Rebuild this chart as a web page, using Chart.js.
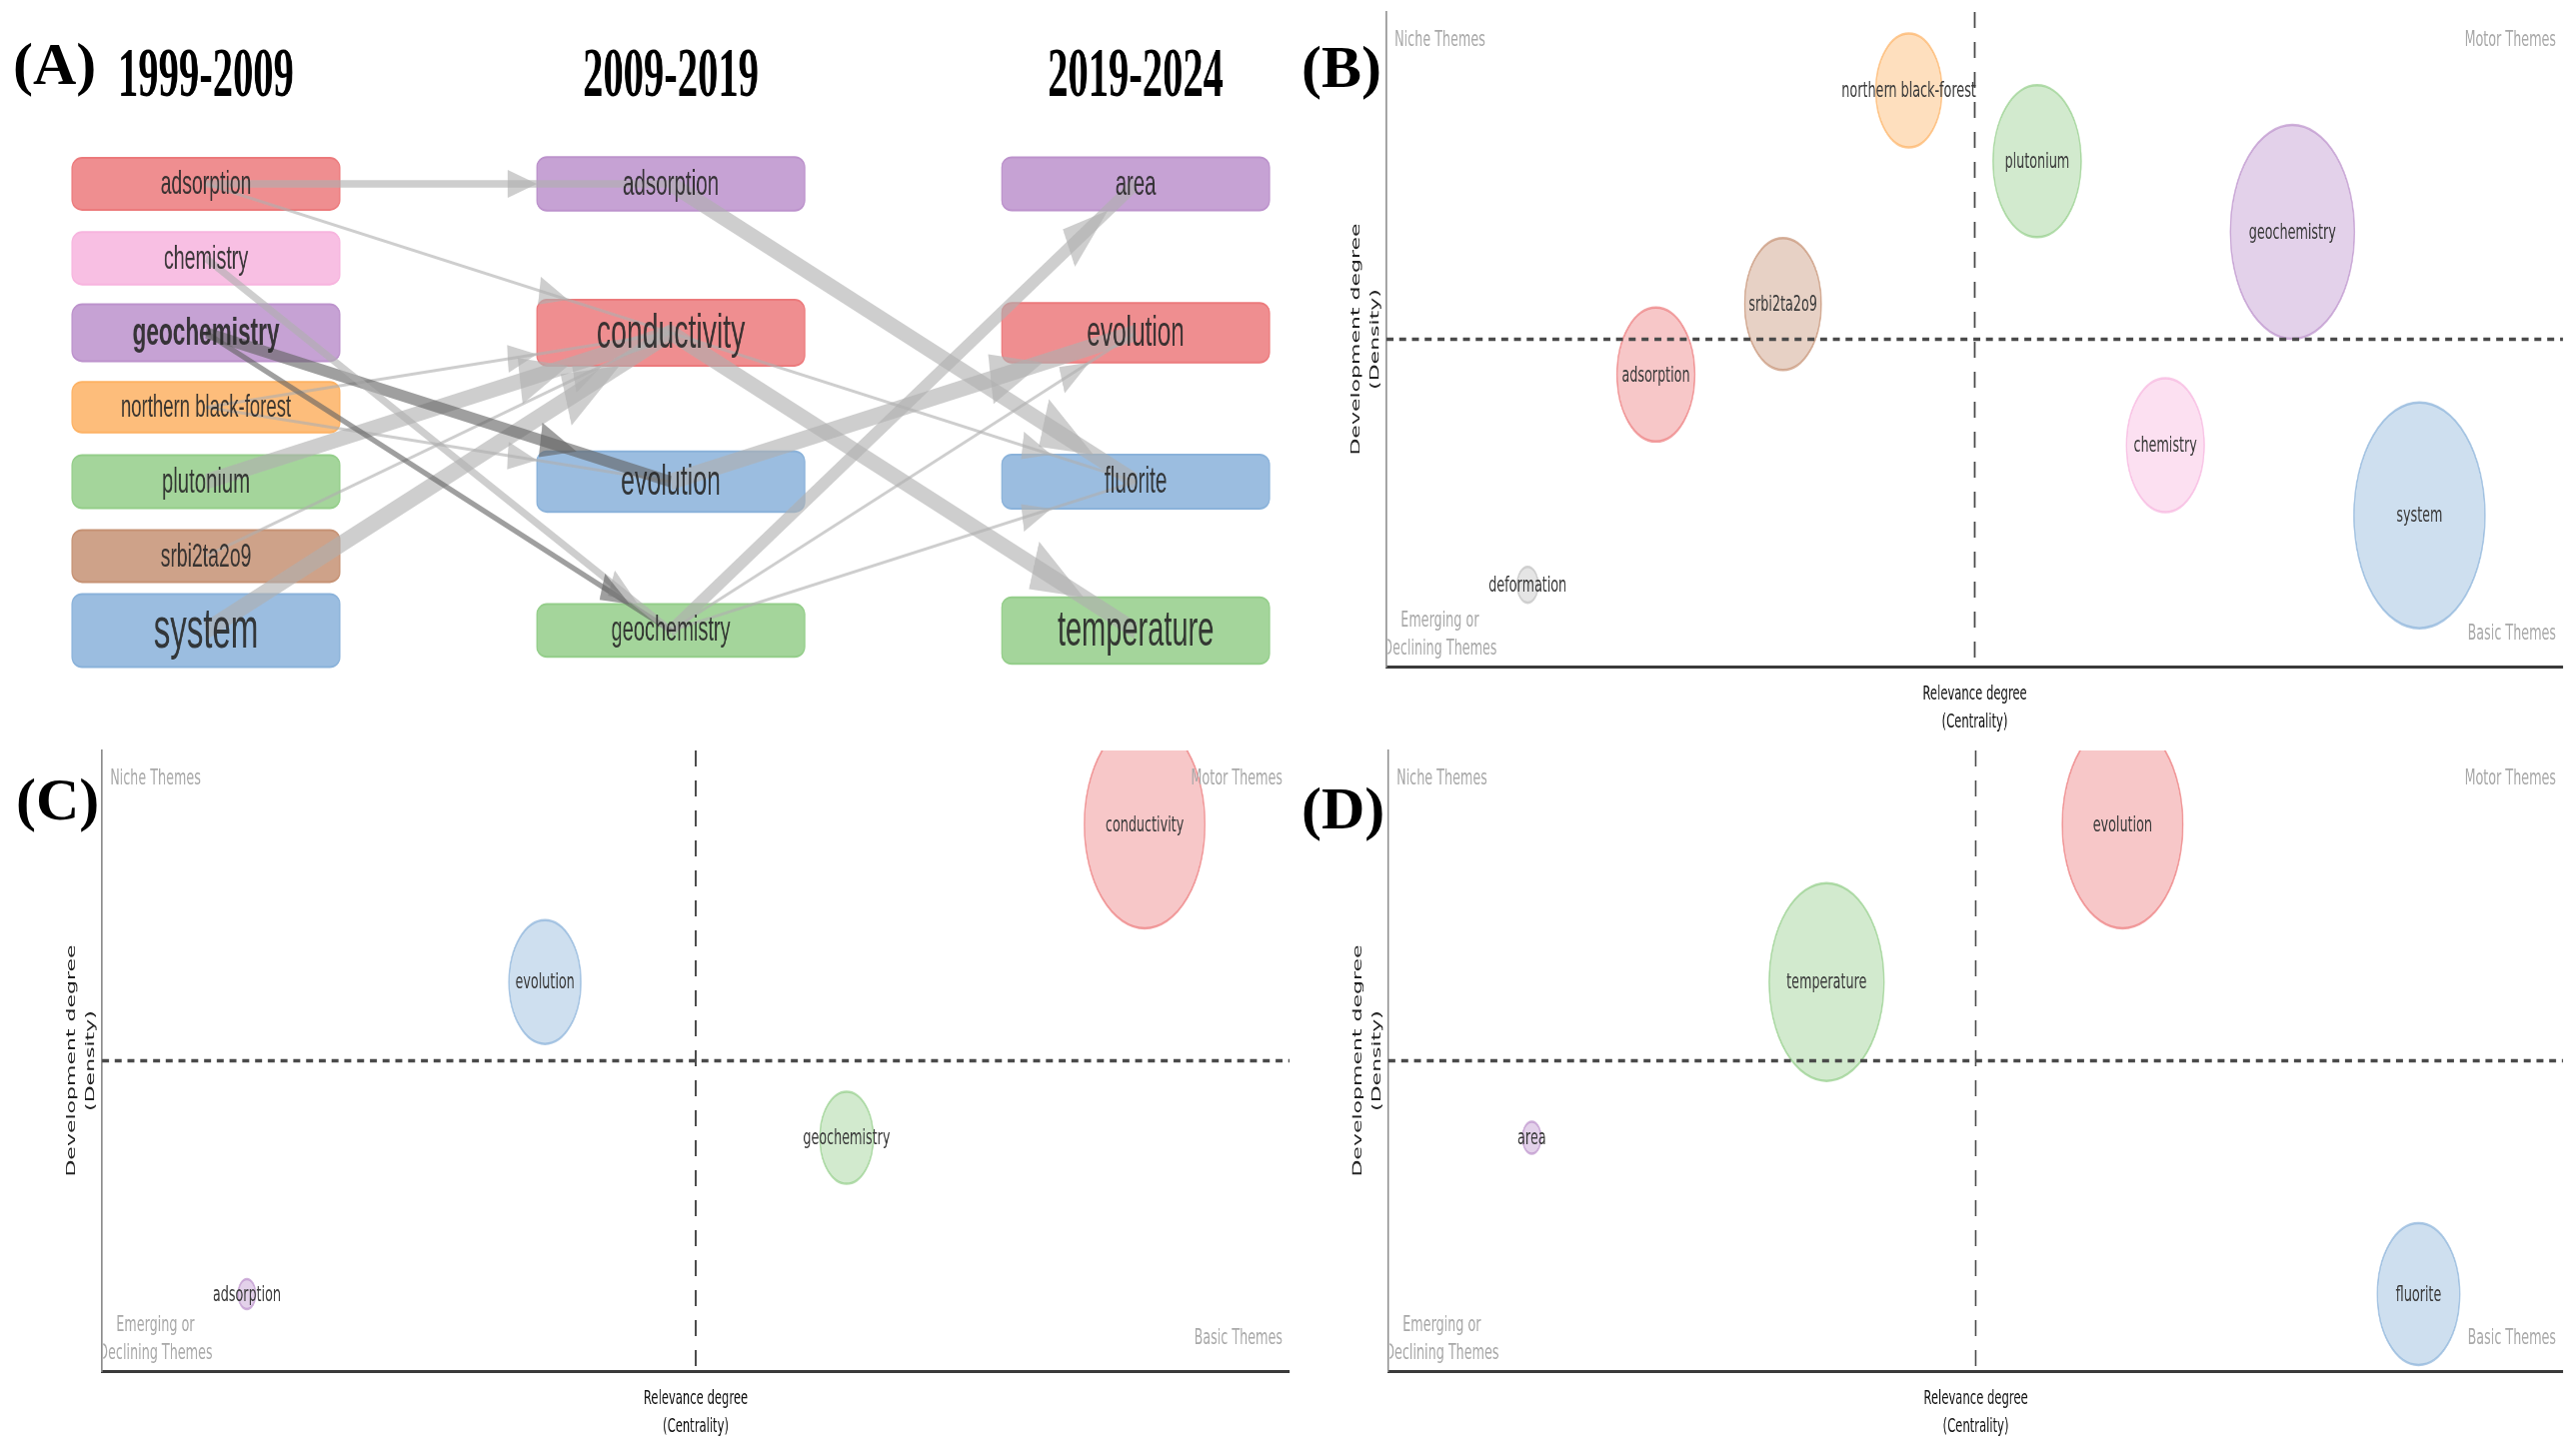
<!DOCTYPE html>
<html lang="en">
<head>
<meta charset="UTF-8">
<title>Thematic evolution and strategic diagrams</title>
<script src="https://cdn.jsdelivr.net/npm/chart.js@4"></script>
<style>
  html, body { margin: 0; padding: 0; background: #fff; overflow: hidden; }
  #figure { position: relative; width: 2577px; height: 1450px; background: #fff; }
  canvas { position: absolute; }
  .tag { position: absolute; font: bold 60px "Liberation Serif", "Times New Roman", serif; line-height: 60px; color: #000; }
</style>
</head>
<body>
<div id="figure">
  <canvas id="panelA"></canvas>
  <canvas id="panelB"></canvas>
  <canvas id="panelC"></canvas>
  <canvas id="panelD"></canvas>
  <div class="tag" style="left:13px;top:34px">(A)</div>
  <div class="tag" style="left:1302px;top:37px">(B)</div>
  <div class="tag" style="left:16px;top:770px">(C)</div>
  <div class="tag" style="left:1302px;top:779px">(D)</div>
</div>

<script>
// ---- data: thematic evolution (panel A) ----
const periods = ['1999-2009', '2009-2019', '2019-2024'];

const themes1 = ['adsorption', 'chemistry', 'geochemistry', 'northern black-forest', 'plutonium', 'srbi2ta2o9', 'system'];
const rank1 = [0, 1, 2, 3, 4, 5, 6];
const weight1 = [1.3, 1.4, 2.4, 1.0, 1.6, 1.3, 6];
const colors1 = ['red', 'pink', 'purple', 'orange', 'green', 'brown', 'blue'];

const themes2 = ['adsorption', 'conductivity', 'evolution', 'geochemistry'];
const rank2 = [0, 2, 4, 6];
const weight2 = [1.7, 4.4, 3.2, 1.5];
const colors2 = ['purple', 'red', 'blue', 'green'];

const themes3 = ['area', 'evolution', 'fluorite', 'temperature'];
const rank3 = [0, 2, 4, 6];
const weight3 = [1.6, 3.0, 1.8, 4.6];
const colors3 = ['purple', 'red', 'blue', 'green'];

// flows between consecutive periods
const flowPeriod = [0, 0, 0, 0, 0, 0, 0, 0, 0, 0, 1, 1, 1, 1, 1, 1, 1];
const flowSource = ['adsorption', 'adsorption', 'chemistry', 'geochemistry', 'geochemistry', 'northern black-forest',
  'northern black-forest', 'plutonium', 'srbi2ta2o9', 'system',
  'adsorption', 'conductivity', 'conductivity', 'evolution', 'geochemistry', 'geochemistry', 'geochemistry'];
const flowTarget = ['adsorption', 'conductivity', 'geochemistry', 'evolution', 'geochemistry', 'conductivity',
  'evolution', 'conductivity', 'conductivity', 'conductivity',
  'fluorite', 'temperature', 'fluorite', 'evolution', 'area', 'evolution', 'fluorite'];
const flowWeight = [2.8, 1.2, 3.2, 4.5, 2.2, 1.2, 1.2, 6, 1.2, 7, 6.5, 6.5, 1.2, 6.5, 5.5, 1.2, 1.2];
const highlighted = 'geochemistry'; // selected theme of first period

// ---- data: strategic diagrams (panels B, C, D) ----
const themesB = ['northern black-forest', 'plutonium', 'geochemistry', 'srbi2ta2o9', 'adsorption', 'chemistry', 'system', 'deformation'];
const centralityB = [44.4, 55.3, 77.0, 33.7, 22.9, 66.2, 87.8, 12.0];
const densityB = [88.0, 77.2, 66.4, 55.4, 44.6, 33.8, 23.1, 12.5];
const sizeB = [5.7, 7.6, 10.7, 6.6, 6.7, 6.7, 11.3, 1.8];
const colorsB = ['orange', 'green', 'purple', 'brown', 'red', 'pink', 'blue', 'grey'];

const themesC = ['conductivity', 'evolution', 'geochemistry', 'adsorption'];
const centralityC = [87.8, 37.3, 62.7, 12.2];
const densityC = [88.1, 62.7, 37.6, 12.4];
const sizeC = [10.4, 6.2, 4.6, 1.5];
const colorsC = ['red', 'blue', 'green', 'purple'];

const themesD = ['evolution', 'temperature', 'area', 'fluorite'];
const centralityD = [62.5, 37.3, 12.2, 87.7];
const densityD = [88.1, 62.7, 37.6, 12.4];
const sizeD = [10.4, 9.9, 1.6, 7.1];
const colorsD = ['red', 'green', 'purple', 'blue'];

// ---- styling ----
const SQUEEZE = 0.58; // the figure is horizontally compressed
const PALETTE = {
  red: [236, 122, 124], pink: [247, 180, 222], purple: [188, 146, 204], orange: [253, 178, 100],
  green: [148, 206, 138], brown: [198, 146, 116], blue: [138, 178, 218], grey: [192, 192, 192]
};
const rgba = (c, a) => `rgba(${c[0]},${c[1]},${c[2]},${a})`;
const EDGE_LIGHT = 'rgba(176,176,176,0.62)';
const EDGE_DARK = 'rgba(100,100,100,0.62)';
const EDGE_UNIT = 2.6;
const BUBBLE_UNIT = 10;

Chart.defaults.font.family = '"DejaVu Sans", Verdana, sans-serif';

function placeCanvas(id, box) {
  const c = document.getElementById(id);
  c.style.left = box.left + 'px';
  c.style.top = box.top + 'px';
  c.style.width = box.width + 'px';
  c.style.height = box.height + 'px';
  c.width = Math.round(box.width / SQUEEZE);
  c.height = box.height;
  return c;
}

// ================= Panel A =================
const themesByPeriod = [themes1, themes2, themes3];
const rankByPeriod = [rank1, rank2, rank3];
const weightByPeriod = [weight1, weight2, weight3];
const colorByPeriod = [colors1, colors2, colors3];

const nodes = [];
themesByPeriod.forEach((list, col) => {
  list.forEach((t, i) => nodes.push({
    col, theme: t, rank: rankByPeriod[col][i], weight: weightByPeriod[col][i],
    color: colorByPeriod[col][i], bold: col === 0 && t === highlighted
  }));
});
const findNode = (col, theme) => nodes.find(n => n.col === col && n.theme === theme);
const boxHeight = w => 46 + 4.5 * w;
const boxFont = w => 27 + 5 * w;
const BOX_HALF = 0.288;   // half box width, in period units
const HEADER_RANK = -1.42;

const flowDatasets = flowSource.map((src, i) => {
  const col = flowPeriod[i];
  const a = findNode(col, src);
  const b = findNode(col + 1, flowTarget[i]);
  return {
    type: 'scatter',
    showLine: true,
    data: [{ x: col, y: a.rank }, { x: col + 1, y: b.rank }],
    borderColor: a.bold ? EDGE_DARK : EDGE_LIGHT,
    backgroundColor: a.bold ? EDGE_DARK : EDGE_LIGHT,
    borderWidth: flowWeight[i] * EDGE_UNIT,
    pointRadius: 0,
    pointHoverRadius: 0,
    clip: false,
    targetNode: b
  };
});

const sankeyPlugin = {
  id: 'sankeyBoxes',
  beforeDatasetsDraw(chart) {
    const { ctx, scales: { x, y } } = chart;
    const hw = x.getPixelForValue(BOX_HALF) - x.getPixelForValue(0);
    ctx.save();
    nodes.forEach(n => {
      const cx = x.getPixelForValue(n.col), cy = y.getPixelForValue(n.rank);
      const h = boxHeight(n.weight);
      ctx.beginPath();
      ctx.roundRect(cx - hw, cy - h / 2, 2 * hw, h, [{ x: 10 / SQUEEZE, y: 10 }]);
      ctx.fillStyle = rgba(PALETTE[n.color], 0.85);
      ctx.fill();
      ctx.lineWidth = 2;
      ctx.strokeStyle = rgba(PALETTE[n.color], 1);
      ctx.stroke();
    });
    ctx.restore();
  },
  afterDatasetsDraw(chart) {
    const { ctx, scales: { x, y } } = chart;
    const hw = x.getPixelForValue(BOX_HALF) - x.getPixelForValue(0);
    ctx.save();
    // arrow heads where each flow enters its target box
    chart.data.datasets.forEach((ds, i) => {
      const pts = chart.getDatasetMeta(i).data;
      const x0 = pts[0].x, y0 = pts[0].y, x1 = pts[1].x, y1 = pts[1].y;
      const dx = x1 - x0, dy = y1 - y0;
      const hh = boxHeight(ds.targetNode.weight) / 2;
      const s = Math.min(hw / Math.max(Math.abs(dx), 1e-6), hh / Math.max(Math.abs(dy), 1e-6));
      const tx = x1 - dx * s, ty = y1 - dy * s;
      const len = Math.hypot(dx, dy), ux = dx / len, uy = dy / len;
      const headW = Math.max(14, ds.borderWidth * 1.5);
      const headL = headW * 3.6;
      const bx = tx - ux * headL, by = ty - uy * headL;
      ctx.beginPath();
      ctx.moveTo(tx, ty);
      ctx.lineTo(bx - uy * headW, by + ux * headW);
      ctx.lineTo(bx + uy * headW, by - ux * headW);
      ctx.closePath();
      ctx.fillStyle = ds.borderColor;
      ctx.fill();
    });
    // node labels
    ctx.textAlign = 'center';
    ctx.textBaseline = 'middle';
    nodes.forEach(n => {
      ctx.font = `${n.bold ? 'bold ' : ''}${boxFont(n.weight)}px "Liberation Sans", Arial, sans-serif`;
      ctx.fillStyle = 'rgba(40,40,40,0.9)';
      ctx.fillText(n.theme, x.getPixelForValue(n.col), y.getPixelForValue(n.rank) + 1);
    });
    // period headers
    ctx.font = 'bold 70px "Liberation Serif", "Times New Roman", serif';
    ctx.fillStyle = '#000';
    periods.forEach((p, col) => ctx.fillText(p, x.getPixelForValue(col), y.getPixelForValue(HEADER_RANK)));
    ctx.restore();
  }
};

new Chart(placeCanvas('panelA', { left: 0, top: 0, width: 1330, height: 720 }), {
  type: 'scatter',
  data: { datasets: flowDatasets },
  options: {
    responsive: false,
    animation: false,
    events: [],
    layout: { padding: 0, autoPadding: false },
    plugins: { legend: { display: false }, tooltip: { enabled: false } },
    scales: {
      x: { type: 'linear', display: false, min: -0.443, max: 2.417 },
      y: { type: 'linear', display: false, reverse: true, min: -2.47, max: 7.195 }
    }
  },
  plugins: [sankeyPlugin]
});

// ================= Panels B, C, D =================
const MID = 50;
const X_TITLE_LH = 28, X_TITLE_PAD = { top: 14, bottom: 0 };
const Y_TITLE_LH = 32.7, Y_TITLE_PAD = { top: 4, bottom: 3 };

const quadrantPlugin = {
  id: 'quadrants',
  afterDatasetsDraw(chart) {
    const { ctx, chartArea: a, scales: { x, y } } = chart;
    ctx.save();
    ctx.strokeStyle = '#4a4a4a';
    // vertical median line
    ctx.lineWidth = 3;
    ctx.setLineDash([16, 14]);
    const cx = x.getPixelForValue(MID);
    ctx.beginPath(); ctx.moveTo(cx, a.top); ctx.lineTo(cx, a.bottom); ctx.stroke();
    // horizontal median line
    ctx.lineWidth = 3.5;
    ctx.setLineDash([12, 10]);
    const cy = y.getPixelForValue(MID);
    ctx.beginPath(); ctx.moveTo(a.left, cy); ctx.lineTo(a.right, cy); ctx.stroke();
    ctx.setLineDash([]);

    // quadrant names, kept inside the plot area
    ctx.save();
    ctx.beginPath();
    ctx.rect(a.left + 2, a.top, a.right - a.left, a.bottom - a.top);
    ctx.clip();
    ctx.font = '22px "DejaVu Sans", Verdana, sans-serif';
    ctx.fillStyle = '#a8a8a8';
    ctx.textBaseline = 'middle';
    ctx.textAlign = 'left';
    ctx.fillText('Niche Themes', a.left + 14, a.top + 28);
    ctx.textAlign = 'right';
    ctx.fillText('Motor Themes', a.right - 12, a.top + 28);
    ctx.fillText('Basic Themes', a.right - 12, a.bottom - 33);
    ctx.textAlign = 'center';
    ctx.fillText('Emerging or', a.left + 92, a.bottom - 46);
    ctx.fillText('Declining Themes', a.left + 92, a.bottom - 18);
    ctx.restore();

    // theme labels on bubbles
    const ds = chart.data.datasets[0];
    const pts = chart.getDatasetMeta(0).data;
    ctx.font = '22px "DejaVu Sans", Verdana, sans-serif';
    ctx.fillStyle = '#3a3a3a';
    ctx.textAlign = 'center';
    ctx.textBaseline = 'middle';
    pts.forEach((p, i) => ctx.fillText(ds.themeLabels[i], p.x, p.y + 1));
    ctx.restore();
  }
};

function quadrantChart(id, box, area, themes, centrality, density, sizes, colors) {
  const canvas = placeCanvas(id, box);
  const yTitleW = 2 * Y_TITLE_LH + Y_TITLE_PAD.top + Y_TITLE_PAD.bottom;
  const xTitleH = 2 * X_TITLE_LH + X_TITLE_PAD.top + X_TITLE_PAD.bottom;
  const padding = {
    left: (area.left - box.left) / SQUEEZE - yTitleW,
    right: (box.left + box.width - area.right) / SQUEEZE,
    top: area.top - box.top,
    bottom: box.top + box.height - area.bottom - xTitleH
  };
  return new Chart(canvas, {
    type: 'bubble',
    data: {
      datasets: [{
        data: themes.map((t, i) => ({ x: centrality[i], y: density[i], r: sizes[i] * BUBBLE_UNIT })),
        themeLabels: themes,
        backgroundColor: colors.map(c => rgba(PALETTE[c], 0.42)),
        borderColor: colors.map(c => rgba(PALETTE[c], 0.7)),
        borderWidth: 2.5,
        hoverRadius: 0,
        clip: 0
      }]
    },
    options: {
      responsive: false,
      animation: false,
      events: [],
      layout: { padding, autoPadding: false },
      plugins: { legend: { display: false }, tooltip: { enabled: false } },
      scales: {
        x: {
          type: 'linear', min: 0, max: 100,
          ticks: { display: false },
          grid: { display: false, drawTicks: false },
          border: { display: true, color: '#3a3a3a', width: 3 },
          title: {
            display: true, text: ['Relevance degree', '(Centrality)'], color: '#111',
            font: { family: '"DejaVu Sans", Verdana, sans-serif', size: 20, lineHeight: X_TITLE_LH / 20 },
            padding: X_TITLE_PAD
          }
        },
        y: {
          type: 'linear', min: 0, max: 100,
          ticks: { display: false },
          grid: { display: false, drawTicks: false },
          border: { display: true, color: '#8c8c8c', width: 2.5 },
          title: {
            display: true, text: ['Development degree', '(Density)'], color: '#222',
            font: { family: '"DejaVu Sans", Verdana, sans-serif', size: 22, lineHeight: Y_TITLE_LH / 22 },
            padding: Y_TITLE_PAD
          }
        }
      }
    },
    plugins: [quadrantPlugin]
  });
}

quadrantChart('panelB', { left: 1330, top: 0, width: 1247, height: 740 },
  { left: 1387, top: 12, right: 2564, bottom: 667 },
  themesB, centralityB, densityB, sizeB, colorsB);

quadrantChart('panelC', { left: 20, top: 735, width: 1290, height: 715 },
  { left: 102, top: 751, right: 1290, bottom: 1372 },
  themesC, centralityC, densityC, sizeC, colorsC);

quadrantChart('panelD', { left: 1330, top: 735, width: 1247, height: 715 },
  { left: 1389, top: 751, right: 2564, bottom: 1372 },
  themesD, centralityD, densityD, sizeD, colorsD);
</script>
</body>
</html>
